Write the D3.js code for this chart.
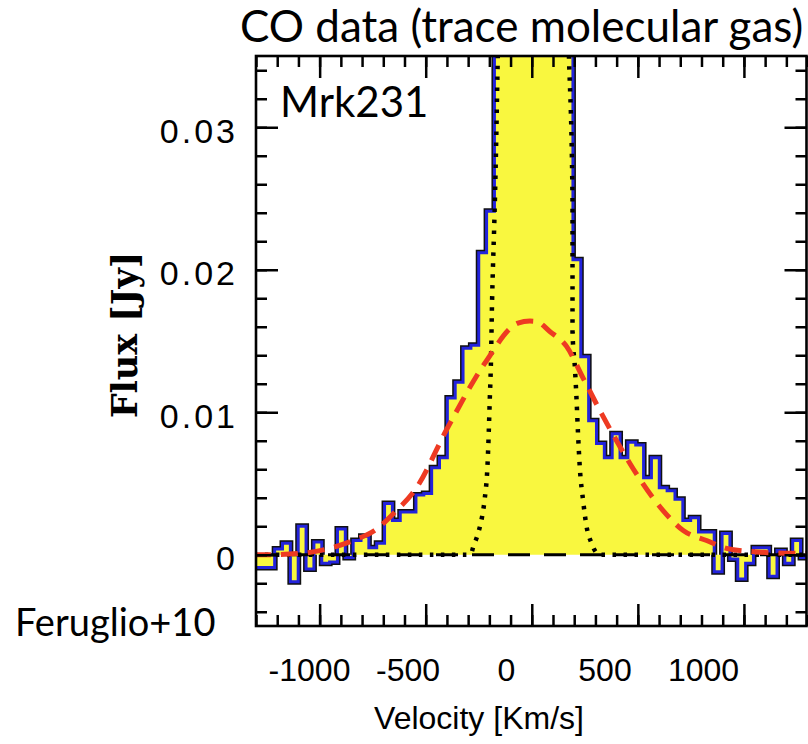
<!DOCTYPE html>
<html>
<head>
<meta charset="utf-8">
<script src="https://cdn.jsdelivr.net/npm/d3@7/dist/d3.min.js"></script>
<style>
  body { margin: 0; background: #fff; }
  svg { display: block; }
</style>
</head>
<body>
<svg id="chart" width="808" height="744"></svg>
<script>
// Mrk231 CO spectrum: channel width in km/s and channel centres
const channelWidth = 37;

const velocity = [
  -1341.5, -1304.5, -1267.5, -1230.5, -1193.5, -1156.5, -1119.5, -1082.5,
  -1045.5, -1008.5, -971.5, -934.5, -897.5, -860.5, -823.5, -786.5,
  -749.5, -712.5, -675.5, -638.5, -601.5, -564.5, -527.5, -490.5,
  -453.5, -416.5, -379.5, -342.5, -305.5, -268.5, -231.5, -194.5,
  -157.5, -120.5, -83.5, -46.5, -9.5, 27.5, 64.5, 101.5, 138.5, 175.5,
  212.5, 249.5, 286.5, 323.5, 360.5, 397.5, 434.5, 471.5,
  508.5, 545.5, 582.5, 619.5, 656.5, 693.5, 730.5, 767.5,
  804.5, 841.5, 878.5, 915.5, 952.5, 989.5, 1026.5, 1063.5,
  1100.5, 1137.5, 1174.5, 1211.5, 1248.5, 1285.5, 1322.5
];

// flux density per channel [Jy]
const flux = [
  -0.0009, -0.0009, -0.0009, -0.0009, 0.0004, 0.0008, -0.0019, 0.0020,
  -0.0010, 0.0009, -0.0006, -0.0005, 0.0018, -0.0002, 0.0010, 0.0013,
  0.0005, 0.0008, 0.0036, 0.0024, 0.0030, 0.0030, 0.0042, 0.0043,
  0.0061, 0.0068, 0.0110, 0.0121, 0.0145, 0.0147, 0.0212, 0.0241,
  0.052, 0.11, 0.21, 0.31, 0.37, 0.37, 0.30, 0.20, 0.11, 0.050,
  0.0207, 0.0139, 0.0094, 0.0078, 0.0068, 0.0085, 0.0068, 0.0079,
  0.0077, 0.0054, 0.0068, 0.0047, 0.0045, 0.0039, 0.0024, 0.0026,
  0.0016, 0.0016, -0.0012, 0.0015, -0.0003, -0.0017, -0.0006, 0.0005,
  0.0005, -0.0015, 0.0003, -0.0006, 0.0010, -0.0002, -0.0002
];

// narrow core component (dotted)
const coreVel  = [-1310, -400, -300, -283, -277, -253, -234, -222, -209, -203, -198, -193, -187, -183, -178, -175, -158, 7, 172, 192, 192, 203, 211, 218, 226, 242, 258, 282, 297, 320, 420, 1310];
const coreFlux = [0, 0, 0, 0.0002, 0.0005, 0.0015, 0.0027, 0.0039, 0.0062, 0.0085, 0.0109, 0.0132, 0.0179, 0.0202, 0.0226, 0.0242, 0.037, 0.38, 0.037, 0.0249, 0.0156, 0.0132, 0.0109, 0.0085, 0.0062, 0.0038, 0.0020, 0.0008, 0.0003, 0, 0, 0];

// broad outflow component (red dashed)
const wingVel  = [-1310, -1251, -1086, -953, -843, -741, -646, -552, -395, -222, -65, -9, 22, 85, 164, 242, 329, 415, 501, 619, 714, 824, 918, 1060, 1233, 1310];
const wingFlux = [0.0000, 0.0000, 0.0001, 0.00045, 0.0010, 0.0017, 0.00298, 0.00451, 0.00896, 0.01343, 0.01625, 0.0164, 0.01637, 0.01567, 0.01462, 0.01240, 0.0099, 0.0076, 0.0055, 0.0031, 0.0017, 0.0010, 0.00045, 0.0002, 0.0001, 0.0001];

const xMajor = [-1000, -500, 0, 500, 1000];
const xMinor = d3.range(-1300, 1301, 100);
const yMajor = [0, 0.01, 0.02, 0.03];
const yMinor = d3.range(-0.004, 0.0351, 0.002);
const xLabels = ["-1000", "-500", "0", "500", "1000"];
const yLabels = ["0", "0.01", "0.02", "0.03"];

const svg = d3.select("#chart");
const frameLeft = 256, frameRight = 806.5, frameTop = 56, frameBottom = 626;

const x = d3.scaleLinear().domain([-1300, 1295]).range([frameLeft, frameRight]);
const y = d3.scaleLinear().domain([-0.005, 0.035]).range([frameBottom, frameTop]);
// tick numbers sit on their own, slightly tighter, spacing
const xLabelPos = d3.scaleLinear().domain([-1000, 1000]).range([309, 703]);

svg.append("defs").append("clipPath").attr("id", "plotClip")
  .append("rect").attr("x", frameLeft).attr("y", frameTop)
  .attr("width", frameRight - frameLeft).attr("height", frameBottom - frameTop);

const plot = svg.append("g").attr("clip-path", "url(#plotClip)");

const steps = velocity.map((v, i) => ({ v: v - channelWidth / 2, f: flux[i] }));
steps.push({ v: velocity[velocity.length - 1] + channelWidth / 2, f: flux[flux.length - 1] });

const stepLine = d3.line().x(d => x(d.v)).y(d => y(d.f)).curve(d3.curveStepAfter);
const stepArea = d3.area().x(d => x(d.v)).y0(y(0)).y1(d => y(d.f)).curve(d3.curveStepAfter);

// dark outline of the spectrum, then fill, then the blue trace
plot.append("path").attr("d", stepLine(steps))
  .attr("fill", "none").attr("stroke", "#111").attr("stroke-width", 6)
  .attr("stroke-linejoin", "miter");
plot.append("path").attr("d", stepArea(steps))
  .attr("fill", "#f9f73f").attr("stroke", "none");
plot.append("path").attr("d", stepLine(steps))
  .attr("fill", "none").attr("stroke", "#2323dc").attr("stroke-width", 3)
  .attr("stroke-linejoin", "miter");

// zero level
plot.append("line")
  .attr("x1", x(-1300)).attr("x2", x(1300)).attr("y1", y(0)).attr("y2", y(0))
  .attr("stroke", "#000").attr("stroke-width", 3).attr("stroke-dasharray", "22 14");

const curveLine = d3.line().x(d => x(d[0])).y(d => y(d[1])).curve(d3.curveMonotoneX);

plot.append("path").attr("d", curveLine(coreVel.map((v, i) => [v, coreFlux[i]])))
  .attr("fill", "none").attr("stroke", "#000").attr("stroke-width", 4.5)
  .attr("stroke-dasharray", "3.5 7.5");

plot.append("path").attr("d", curveLine(wingVel.map((v, i) => [v, wingFlux[i]])))
  .attr("fill", "none").attr("stroke", "#ee3a22").attr("stroke-width", 5)
  .attr("stroke-dasharray", "17 10");

// frame with inward ticks on all four sides
const axes = svg.append("g");
function ticks(axisFn, scale, values, size, tx, ty) {
  const g = axes.append("g").attr("transform", `translate(${tx},${ty})`)
    .call(axisFn(scale).tickValues(values).tickSize(size).tickFormat(""));
  g.select(".domain").remove();
  g.selectAll(".tick line").attr("stroke", "#000").attr("stroke-width", 2.5);
}
ticks(d3.axisBottom, x, xMinor, -11, 0, frameBottom);
ticks(d3.axisBottom, x, xMajor, -22, 0, frameBottom);
ticks(d3.axisTop, x, xMinor, -11, 0, frameTop);
ticks(d3.axisTop, x, xMajor, -22, 0, frameTop);
ticks(d3.axisLeft, y, yMinor, -11, frameLeft, 0);
ticks(d3.axisLeft, y, yMajor, -22, frameLeft, 0);
ticks(d3.axisRight, y, yMinor, -11, frameRight, 0);
ticks(d3.axisRight, y, yMajor, -22, frameRight, 0);

axes.append("rect").attr("x", frameLeft).attr("y", frameTop)
  .attr("width", frameRight - frameLeft).attr("height", frameBottom - frameTop)
  .attr("fill", "none").attr("stroke", "#000").attr("stroke-width", 2.6);

// tick numbers
const xl = svg.append("g").attr("transform", `translate(0,${frameBottom})`)
  .call(d3.axisBottom(xLabelPos).tickValues(xMajor).tickSize(0).tickPadding(32)
    .tickFormat((d, i) => xLabels[i]));
xl.select(".domain").remove();
xl.selectAll("text").attr("font-family", "'Liberation Sans', Arial, sans-serif")
  .attr("font-size", 32).attr("fill", "#000");

const yl = svg.append("g").attr("transform", `translate(${frameLeft - 18},0)`)
  .call(d3.axisLeft(y).tickValues(yMajor).tickSize(0).tickPadding(0)
    .tickFormat((d, i) => yLabels[i]));
yl.select(".domain").remove();
yl.selectAll("text").attr("font-family", "'Liberation Sans', Arial, sans-serif")
  .attr("font-size", 34).attr("letter-spacing", 3).attr("fill", "#000").attr("dy", "0.44em");

// titles
svg.append("text").attr("x", 479).attr("y", 729).attr("text-anchor", "middle")
  .attr("font-family", "'Liberation Sans', Arial, sans-serif").attr("font-size", 32)
  .text("Velocity [Km/s]");

svg.append("text").attr("transform", "translate(137,335) rotate(-90)")
  .attr("text-anchor", "middle")
  .attr("font-family", "'DejaVu Serif', serif").attr("font-weight", "bold").attr("font-size", 35)
  .text("Flux [Jy]");

svg.append("text").attr("x", 240).attr("y", 42)
  .attr("font-family", "Lato, 'Open Sans', sans-serif").attr("font-size", 44)
  .text("CO data (trace molecular gas)");

svg.append("text").attr("x", 280).attr("y", 117)
  .attr("font-family", "Lato, 'Open Sans', sans-serif").attr("font-size", 42)
  .text("Mrk231");

svg.append("text").attr("x", 15).attr("y", 636)
  .attr("font-family", "Lato, 'Open Sans', sans-serif").attr("font-size", 38)
  .text("Feruglio+10");
</script>
</body>
</html>
